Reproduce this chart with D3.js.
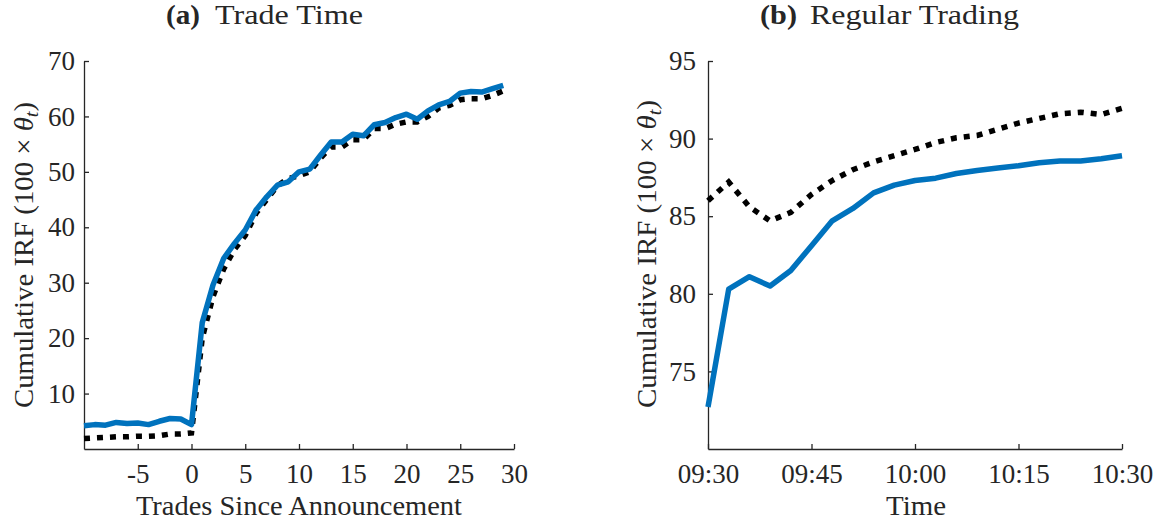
<!DOCTYPE html>
<html>
<head>
<meta charset="utf-8">
<script src="https://cdn.jsdelivr.net/npm/d3@7"></script>
<style>
  body { margin: 0; background: #fff; }
  svg text { font-family: "Liberation Serif", "DejaVu Serif", serif; fill: #262626; }
</style>
</head>
<body>
<svg id="chart" width="1157" height="523"></svg>
<script>
// panel (a): trade time
const tradeX = [-10, -9, -8, -7, -6, -5, -4, -3, -2, -1, 0, 1, 2, 3, 4, 5, 6, 7, 8, 9,
                10, 11, 12, 13, 14, 15, 16, 17, 18, 19, 20, 21, 22, 23, 24, 25, 26, 27, 28, 29];
const tradeBlue = [4.2, 4.4, 4.3, 4.8, 4.6, 4.7, 4.4, 5.0, 5.5, 5.4, 4.4, 22.8, 29.6, 34.4, 37.1, 39.5, 43.1, 45.5, 47.6, 48.2,
                   50.0, 50.5, 53.0, 55.4, 55.4, 56.8, 56.5, 58.5, 58.9, 59.8, 60.4, 59.5, 61.0, 62.1, 62.7, 64.2, 64.5, 64.4, 65.0, 65.6];
const tradeBlack = [1.9, 2.0, 2.1, 2.2, 2.2, 2.3, 2.3, 2.4, 2.7, 2.7, 2.9, 20.0, 27.5, 32.5, 36.0, 38.5, 42.5, 45.0, 47.5, 48.8,
                    49.3, 50.0, 52.5, 54.5, 54.5, 55.8, 55.8, 57.8, 57.8, 58.6, 59.0, 59.0, 60.0, 61.5, 62.0, 63.0, 63.2, 63.2, 63.8, 64.6];
const tradeXTicks = [-5, 0, 5, 10, 15, 20, 25, 30];
const tradeYTicks = [10, 20, 30, 40, 50, 60, 70];

// panel (b): regular trading
const regTimes = ["09:30", "09:33", "09:36", "09:39", "09:42", "09:45", "09:48", "09:51", "09:54", "09:57", "10:00",
                  "10:03", "10:06", "10:09", "10:12", "10:15", "10:18", "10:21", "10:24", "10:27", "10:30"];
const regBlue = [72.7, 80.3, 81.1, 80.5, 81.5, 83.1, 84.7, 85.5, 86.5, 87.0, 87.3,
                 87.45, 87.75, 87.95, 88.1, 88.25, 88.45, 88.55, 88.55, 88.7, 88.9];
const regBlack = [86.0, 87.2, 85.6, 84.7, 85.25, 86.4, 87.3, 88.0, 88.5, 88.9, 89.3,
                  89.75, 90.05, 90.2, 90.6, 91.0, 91.3, 91.6, 91.7, 91.55, 91.95];
const regXTicks = ["09:30", "09:45", "10:00", "10:15", "10:30"];
const regYTicks = [75, 80, 85, 90, 95];

const parseTime = d3.timeParse("%H:%M");
const svg = d3.select("#chart");
const axisColor = "#262626";

function drawPanel(opt) {
    var g = svg.append("g");

    // axes, MATLAB style ticks pointing inwards
    var xAxis = d3.axisBottom(opt.x).tickValues(opt.xTicks).tickSizeInner(-5).tickSizeOuter(0).tickPadding(15)
        .tickFormat(opt.xFormat || (d => String(d)));
    var yAxis = d3.axisLeft(opt.y).tickValues(opt.yTicks).tickSizeInner(-5).tickSizeOuter(0).tickPadding(opt.yPad)
        .tickFormat(d => String(d));

    var gx = g.append("g").attr("transform", "translate(0," + opt.y.range()[0] + ")").call(xAxis);
    var gy = g.append("g").attr("transform", "translate(" + opt.x.range()[0] + ",0)").call(yAxis);
    [gx, gy].forEach(function (a) {
        a.select(".domain").attr("stroke", axisColor).attr("stroke-width", 1.3);
        a.selectAll(".tick line").attr("stroke", axisColor).attr("stroke-width", 1.3);
        a.selectAll(".tick text").attr("fill", axisColor).style("font-size", "27px")
            .style("font-family", "'Liberation Serif', serif");
    });

    var line = d3.line().x(d => opt.x(d[0])).y(d => opt.y(d[1]));

    // dotted series under the solid one
    g.append("path")
        .datum(opt.xs.map((v, i) => [v, opt.black[i]]))
        .attr("d", line)
        .attr("fill", "none")
        .attr("stroke", "#000")
        .attr("stroke-width", 5.5)
        .attr("stroke-dasharray", "6,7");

    g.append("path")
        .datum(opt.xs.map((v, i) => [v, opt.blue[i]]))
        .attr("d", line)
        .attr("fill", "none")
        .attr("stroke", "#0072BD")
        .attr("stroke-width", 5.5)
        .attr("stroke-linejoin", "round");

    // titles
    g.append("text").attr("x", opt.tag[0]).attr("y", 24)
        .attr("textLength", opt.tag[1]).attr("lengthAdjust", "spacingAndGlyphs")
        .style("font-size", "27px").style("font-weight", "bold").text(opt.tagText);
    g.append("text").attr("x", opt.title[0]).attr("y", 24)
        .attr("textLength", opt.title[1]).attr("lengthAdjust", "spacingAndGlyphs")
        .style("font-size", "27px").text(opt.titleText);

    // x label
    g.append("text").attr("x", opt.xLab[0]).attr("y", 515)
        .attr("textLength", opt.xLab[1]).attr("lengthAdjust", "spacingAndGlyphs")
        .style("font-size", "27px").text(opt.xLabelText);

    // y label
    var yl = g.append("text")
        .attr("transform", "translate(" + opt.yLab[0] + ",408) rotate(-90)")
        .attr("textLength", opt.yLab[1]).attr("lengthAdjust", "spacingAndGlyphs")
        .style("font-size", "27px");
    yl.append("tspan").text("Cumulative IRF (100 \u00d7 ");
    yl.append("tspan").style("font-style", "italic").text("\u03b8");
    yl.append("tspan").style("font-style", "italic").style("font-size", "19px").attr("dy", 5).text("t");
    yl.append("tspan").attr("dy", -5).text(")");
}

drawPanel({
    x: d3.scaleLinear().domain([-10, 30]).range([84, 514]),
    y: d3.scaleLinear().domain([0, 70]).range([449, 61]),
    xs: tradeX, blue: tradeBlue, black: tradeBlack,
    xTicks: tradeXTicks, yTicks: tradeYTicks, yPad: 9,
    tagText: "(a)", tag: [166, 34],
    titleText: "Trade Time", title: [215, 148],
    xLabelText: "Trades Since Announcement", xLab: [136, 326],
    yLab: [32.5, 306]
});

drawPanel({
    x: d3.scaleTime().domain([parseTime("09:30"), parseTime("10:30")]).range([708, 1122]),
    y: d3.scaleLinear().domain([70, 95]).range([449, 61]),
    xs: regTimes.map(parseTime), blue: regBlue, black: regBlack,
    xTicks: regXTicks.map(parseTime), yTicks: regYTicks, yPad: 12,
    xFormat: d3.timeFormat("%H:%M"),
    tagText: "(b)", tag: [760, 37],
    titleText: "Regular Trading", title: [810, 209],
    xLabelText: "Time", xLab: [886, 60],
    yLab: [656, 308]
});
</script>
</body>
</html>
